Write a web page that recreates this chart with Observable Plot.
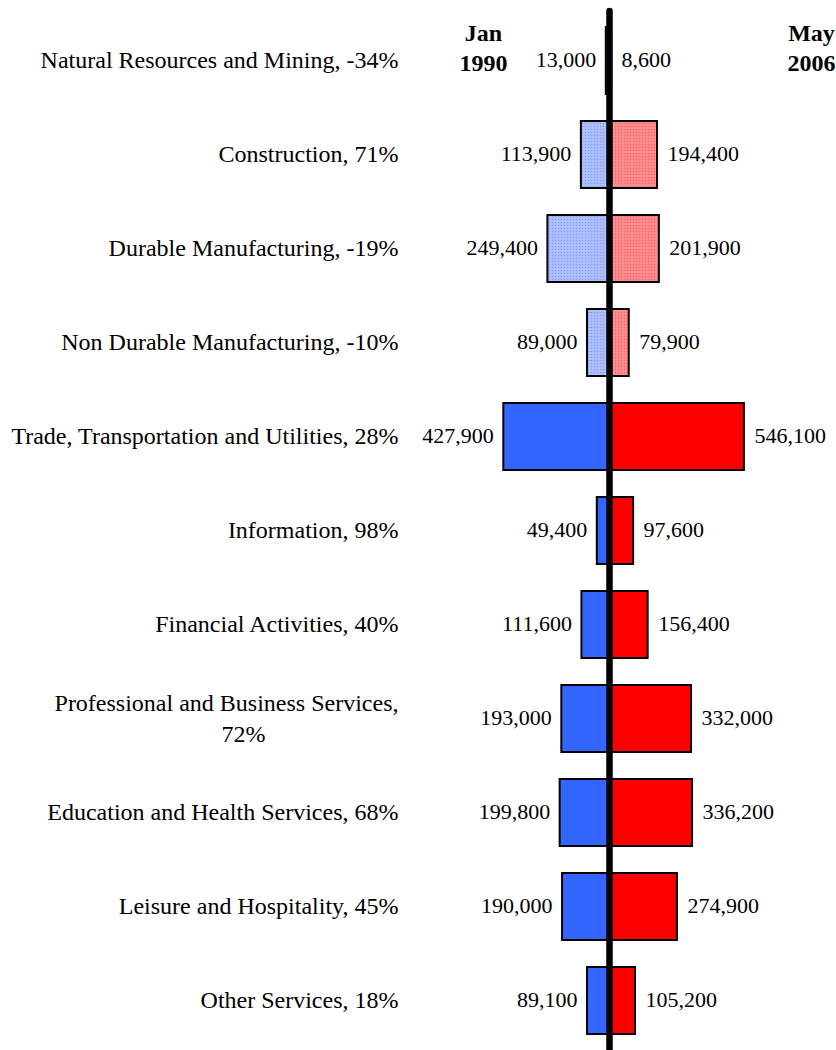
<!DOCTYPE html>
<html>
<head>
<meta charset="utf-8">
<script src="https://cdn.jsdelivr.net/npm/d3@7"></script>
<script src="https://cdn.jsdelivr.net/npm/@observablehq/plot@0.6"></script>
<style>
  html, body { margin: 0; padding: 0; background: #fff; }
  #chart svg { display: block; }
</style>
</head>
<body>
<div id="chart"></div>
<script>
// ---- data ----
const categories = [
  "Natural Resources and Mining",
  "Construction",
  "Durable Manufacturing",
  "Non Durable Manufacturing",
  "Trade, Transportation and Utilities",
  "Information",
  "Financial Activities",
  "Professional and Business Services",
  "Education and Health Services",
  "Leisure and Hospitality",
  "Other Services"
];
const labels = [
  "Natural Resources and Mining, -34%",
  "Construction, 71%",
  "Durable Manufacturing, -19%",
  "Non Durable Manufacturing, -10%",
  "Trade, Transportation and Utilities, 28%",
  "Information, 98%",
  "Financial Activities, 40%",
  "Professional and Business Services,\n72%",
  "Education and Health Services, 68%",
  "Leisure and Hospitality, 45%",
  "Other Services, 18%"
];
const jan1990 = [13000, 113900, 249400, 89000, 427900, 49400, 111600, 193000, 199800, 190000, 89100];
const may2006 = [8600, 194400, 201900, 79900, 546100, 97600, 156400, 332000, 336200, 274900, 105200];
const sector = ["Goods", "Goods", "Goods", "Goods", "Services", "Services", "Services", "Services", "Services", "Services", "Services"];
const headers = ["Jan\n1990", "May\n2006"];

const rows = categories.map((c, i) => ({
  cat: c, label: labels[i], v90: jan1990[i], v06: may2006[i], goods: sector[i] === "Goods"
}));
const single = rows.filter(d => !d.label.includes("\n"));
const wrapped = rows.filter(d => d.label.includes("\n"));
const fmt = d3.format(",");

function patternDefs() {
  const ns = "http://www.w3.org/2000/svg";
  const defs = document.createElementNS(ns, "defs");
  defs.innerHTML =
    '<pattern id="dotBlue" width="3" height="3" patternUnits="userSpaceOnUse">' +
      '<rect width="3" height="3" fill="#a8bbff"/><rect width="1" height="1" fill="#7f9aff"/><rect x="1.5" y="1.5" width="1" height="1" fill="#c4d1ff"/>' +
    '</pattern>' +
    '<pattern id="dotRed" width="3" height="3" patternUnits="userSpaceOnUse">' +
      '<rect width="3" height="3" fill="#ff8686"/><rect width="1" height="1" fill="#ff5f5f"/><rect x="1.5" y="1.5" width="1" height="1" fill="#ffa8a8"/>' +
    '</pattern>';
  return defs;
}

const serif = "'Liberation Serif', 'Times New Roman', serif";

const chart = Plot.plot({
  width: 836,
  height: 1050,
  marginLeft: 400,
  marginRight: 0,
  marginTop: 11,
  marginBottom: 0,
  style: { fontFamily: serif, background: "#fff", color: "black" },
  x: { domain: [-1e6, 1e6], range: [609 - 247, 609 + 247], axis: null },
  y: { domain: categories, range: [10.75, 1050.25], paddingInner: 0.29, paddingOuter: 0.145, axis: null },
  color: { type: "identity" },
  marks: [
    patternDefs,
    Plot.barX(rows, {
      y: "cat", x1: d => -d.v90, x2: 0,
      fill: d => d.goods ? "url(#dotBlue)" : "#3366FF",
      stroke: "black", strokeWidth: 2
    }),
    Plot.barX(rows, {
      y: "cat", x1: 0, x2: d => d.v06,
      fill: d => d.goods ? "url(#dotRed)" : "#FF0000",
      stroke: "black", strokeWidth: 2
    }),
    Plot.ruleX([0], { stroke: "black", strokeWidth: 6.5, strokeLinecap: "round" }),
    // category labels
    Plot.text(single, {
      y: "cat", text: "label", frameAnchor: "left", textAnchor: "end", dx: -2, dy: -1,
      fontSize: 24, fill: "black"
    }),
    Plot.text(wrapped, {
      y: "cat", text: d => d.label.split("\n")[0], frameAnchor: "left", textAnchor: "end", dx: -2, dy: -16,
      fontSize: 24, fill: "black"
    }),
    Plot.text(wrapped, {
      y: "cat", text: d => d.label.split("\n")[1], frameAnchor: "left", textAnchor: "middle", dx: -157, dy: 15,
      fontSize: 24, fill: "black"
    }),
    // value labels
    Plot.text(rows, {
      y: "cat", x: d => -d.v90, text: d => fmt(d.v90), textAnchor: "end", dx: -10, dy: -1,
      fontSize: 22, fill: "black"
    }),
    Plot.text(rows, {
      y: "cat", x: d => d.v06, text: d => fmt(d.v06), textAnchor: "start", dx: 10, dy: -1,
      fontSize: 22, fill: "black"
    }),
    // column headers
    Plot.text([headers[0]], {
      x: () => 0, y: () => categories[0], text: d => d, dx: -126, dy: -15,
      fontSize: 24, fontWeight: "bold", lineHeight: 1.25, fill: "black"
    }),
    Plot.text([headers[1]], {
      x: () => 0, y: () => categories[0], text: d => d, dx: 202, dy: -15,
      fontSize: 24, fontWeight: "bold", lineHeight: 1.25, fill: "black"
    })
  ]
});
document.getElementById("chart").appendChild(chart);
</script>
</body>
</html>
